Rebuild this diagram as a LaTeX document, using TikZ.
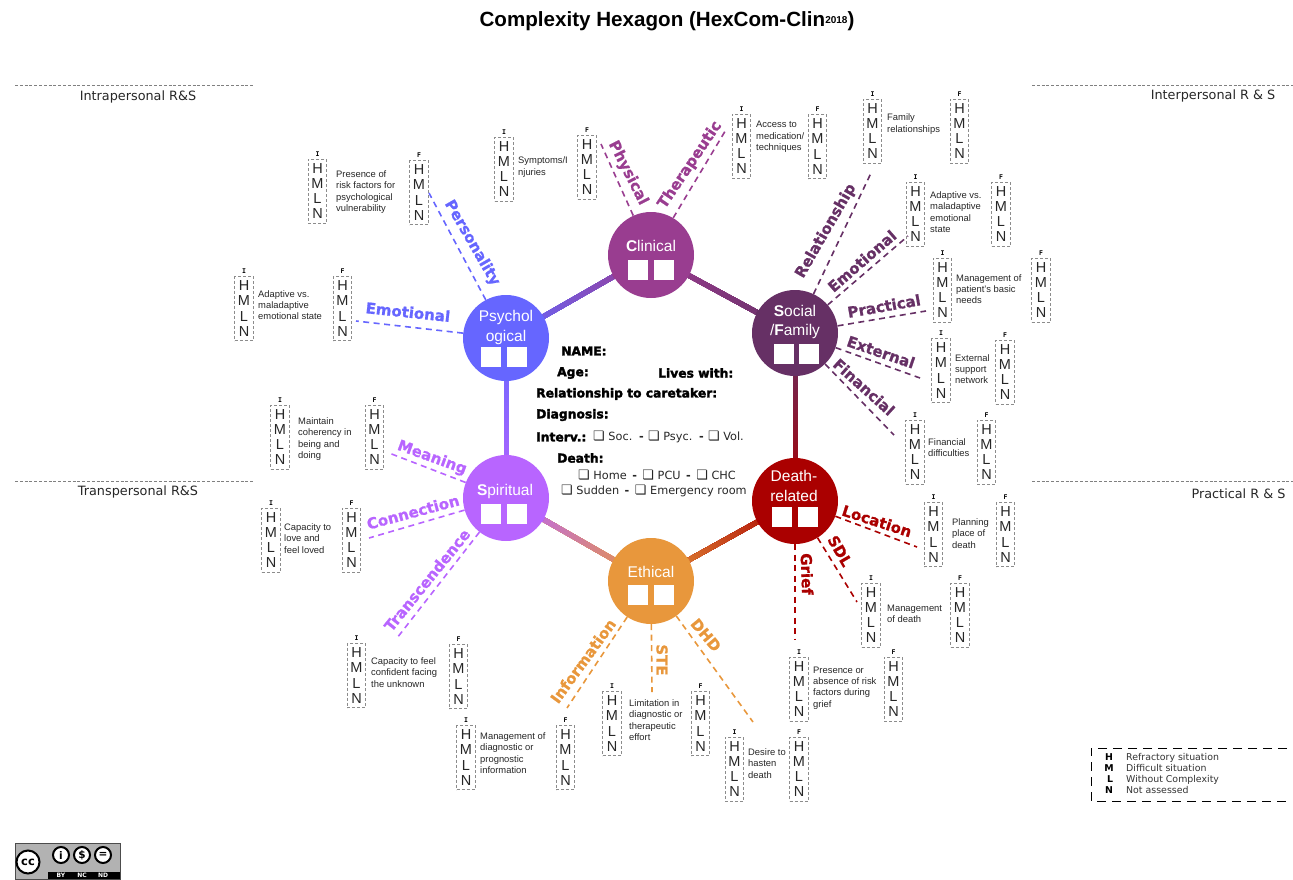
\documentclass[tikz,border=0pt]{standalone}
\usepackage{fontspec}
\setmainfont{Liberation Sans}
\newfontfamily\dejafont{DejaVu Sans}
\newfontfamily\heavyfont[FakeBold=2.4]{DejaVu Sans Bold}
\newfontfamily\topicfont[FakeBold=1]{DejaVu Sans Bold}
\newfontfamily\tagfont{DejaVu Sans Mono Bold}
\usetikzlibrary{calc}
\pgfdeclarelayer{bg}
\pgfsetlayers{bg,main}
\definecolor{psychcol}{HTML}{6666FF}
\definecolor{cliniccol}{HTML}{993D90}
\definecolor{socialcol}{HTML}{663065}
\definecolor{deathcol}{HTML}{AA0000}
\definecolor{ethiccol}{HTML}{E8973C}
\definecolor{spiritcol}{HTML}{B865FF}
\tikzset{
  hub/.style={circle,fill=#1,minimum size=86pt,inner sep=0pt},
  hubtext/.style={text=white,align=center,inner sep=0pt,font=\fontsize{15.5}{19.5}\selectfont},
  tick/.style={fill=white,minimum size=20pt,inner sep=0pt},
  hml/.style={draw=black!45,line width=0.8pt,dash pattern=on 3pt off 2pt,minimum width=18.5pt,minimum height=64pt,
    inner sep=0pt,align=center,font=\fontsize{14.5}{15.2}\selectfont,text=black!85},
  tagtext/.style={inner sep=0pt,label distance=2pt,font=\tagfont\fontsize{6.5}{7}\selectfont},
  desc/.style={anchor=west,align=left,inner sep=0pt,text=black!85,font=\fontsize{9.4}{11.35}\selectfont},
  topic/.style={text=#1,inner sep=0pt,font=\topicfont\fontsize{15}{15}\selectfont},
  spoke/.style={draw=#1,line width=1.6pt,dash pattern=on 6pt off 4.5pt},
  rim/.style={line width=5pt},
  sidetext/.style={inner sep=0pt,text=black!85,font=\dejafont\fontsize{12.8}{13}\selectfont},
  sideline/.style={draw=black!50,line width=1pt,dash pattern=on 3pt off 1.8pt},
  heavy/.style={anchor=west,inner sep=0pt,font=\heavyfont\fontsize{12.3}{13}\selectfont},
  plain/.style={anchor=west,inner sep=0pt,text=black!85,font=\dejafont\fontsize{11.3}{12}\selectfont},
  keyletter/.style={anchor=base,inner sep=0pt,font=\dejafont\bfseries\fontsize{9.4}{10}\selectfont},
  keytext/.style={anchor=base west,inner sep=0pt,text=black!80,font=\dejafont\fontsize{9.4}{10}\selectfont},
  badgeicon/.style={circle,draw=black,fill=white,line width=2pt,minimum size=#1,inner sep=0pt,font=\dejafont\bfseries\fontsize{10.5}{10.5}\selectfont},
}
\newcommand{\chkbox}{{\dejafont\fontsize{13}{12}\selectfont ❏}}
\newcommand{\sep}{{\bfseries\,-\,}}
% boxes: name, I centre, F centre, text anchor, text
\newcommand{\topicitem}[8]{
  \node[hml,label={[tagtext]above:I}] (#1i) at (#2,#3) {H\\M\\L\\N};
  \node[hml,label={[tagtext]above:F}] (#1f) at (#4,#5) {H\\M\\L\\N};
  \node[desc] (#1d) at (#6,#7) {#8};
}
% gradient link between two hubs
\newcommand{\hublink}[4]{
  \begin{pgfonlayer}{bg}
  \draw[rim,color=#3] (#1) -- (#2);
  \foreach \s in {0,...,39} {
    \pgfmathsetmacro\t{\s/40}
    \pgfmathsetmacro\m{\s*2.5}
    \draw[rim,color=#4!\m!#3] ($(#1)!\t!(#2)$) -- (#2);
  }
  \end{pgfonlayer}
}
\begin{document}
\begin{tikzpicture}[x=1pt,y=-1pt]
\useasboundingbox (0,0) rectangle (1293,879);

\node[inner sep=0pt,font=\bfseries\fontsize{20.6}{21}\selectfont] (title) at (667,21) {Complexity Hexagon (HexCom-Clin\raisebox{3pt}{\fontsize{10}{10}\selectfont 2018})};

% side headers
\coordinate (la) at (15,85); \coordinate (lb) at (253,85);
\coordinate (ra) at (1032,85); \coordinate (rb) at (1293,85);
\coordinate (lc) at (15,481); \coordinate (ld) at (253,481);
\coordinate (rc) at (1032,481); \coordinate (rd) at (1293,481);
\draw[sideline] (la) -- (lb);
\draw[sideline] (ra) -- (rb);
\draw[sideline] (lc) -- (ld);
\draw[sideline] (rc) -- (rd);
\node[sidetext] (intra) at (138,97) {Intrapersonal R\&S};
\node[sidetext] (inter) at (1213,96) {Interpersonal R \& S};
\node[sidetext] (trans) at (138,492) {Transpersonal R\&S};
\node[sidetext] (practh) at (1238.5,494) {Practical R \& S};

% hubs
\node[hub=cliniccol] (clinical) at (651,255) {};
\node[hub=psychcol] (psych) at (506,338) {};
\node[hub=socialcol] (social) at (795,333) {};
\node[hub=spiritcol] (spirit) at (506,498) {};
\node[hub=deathcol] (death) at (795,501) {};
\node[hub=ethiccol] (ethic) at (651,581) {};

\node[hubtext] (clinicalt) at (651,246) {\textbf{C}linical};
\node[hubtext] (psycht) at (506,327.5) {Psychol\\ogical};
\node[hubtext] (socialt) at (795,322) {\textbf{S}ocial\\/\textbf{F}amily};
\node[hubtext] (spiritt) at (505,491) {\textbf{S}piritual};
\node[hubtext] (deatht) at (794,486) {Death-\\related};
\node[hubtext] (ethict) at (651,572) {Ethical};

\node[tick] (clinicala) at (638,270) {}; \node[tick] (clinicalb) at (664,270) {};
\node[tick] (psycha) at (491,357) {}; \node[tick] (psychb) at (517,357) {};
\node[tick] (sociala) at (784,354) {}; \node[tick] (socialb) at (809,354) {};
\node[tick] (spirita) at (491,514) {}; \node[tick] (spiritb) at (517,514) {};
\node[tick] (deatha) at (782,517) {}; \node[tick] (deathb) at (808,517) {};
\node[tick] (ethica) at (638,595) {}; \node[tick] (ethicb) at (664,595) {};

\hublink{psych}{clinical}{psychcol}{cliniccol}
\hublink{clinical}{social}{cliniccol}{socialcol}
\hublink{social}{death}{socialcol}{deathcol}
\hublink{death}{ethic}{deathcol}{ethiccol}
\hublink{ethic}{spirit}{ethiccol}{spiritcol}
\hublink{spirit}{psych}{spiritcol}{psychcol}

% patient data
\node[heavy] (name) at (561,351) {NAME:};
\node[heavy] (age) at (557,373) {Age:};
\node[heavy] (lives) at (658,373) {Lives with:};
\node[heavy] (carer) at (536,394) {Relationship to caretaker:};
\node[heavy] (diag) at (536,415) {Diagnosis:};
\node[heavy] (interv) at (536,437) {Interv.:};
\node[plain] (intervo) at (593,437) {\chkbox\ Soc. \sep\hspace{2.5pt}\chkbox\ Psyc. \sep\hspace{2.5pt}\chkbox\ Vol.};
\node[heavy] (dth) at (557,458) {Death:};
\node[plain] (dtha) at (578,475) {\chkbox\ Home \sep\ \chkbox\ PCU \sep\ \chkbox\ CHC};
\node[plain] (dthb) at (561,491) {\chkbox\ Sudden \sep\ \chkbox\ Emergency room};

% psychological
\topicitem{pers}{317.5}{191}{419}{192.5}{336}{192}{Presence of\\risk factors for\\psychological\\vulnerability}
\topicitem{emop}{244}{308.5}{342.5}{308.5}{258}{305}{Adaptive vs.\\maladaptive\\emotional state}
\coordinate (persc) at (429,193); \coordinate (emopc) at (356,321);
\draw[spoke=psychcol] (psych) -- (persc);
\draw[spoke=psychcol] (psych) -- (emopc);
\node[topic=psychcol,rotate=-60] (perst) at (472,243) {Personality};
\node[topic=psychcol,rotate=-6] (emopt) at (408,312) {Emotional};

% clinical
\topicitem{phys}{504}{169}{587}{167}{518}{167}{Symptoms/I\\njuries}
\topicitem{ther}{741.5}{146}{817.5}{146.5}{756}{137}{Access to\\medication/\\techniques}
\coordinate (physc) at (601,144); \coordinate (therc) at (727,128);
\draw[spoke=cliniccol] (clinical) -- (physc);
\draw[spoke=cliniccol] (clinical) -- (therc);
\node[topic=cliniccol,rotate=-63] (physt) at (628,173) {Physical};
\node[topic=cliniccol,rotate=56] (thert) at (690,165) {Therapeutic};

% social / family
\topicitem{rela}{872.5}{131}{959.5}{131}{887}{124}{Family\\relationships}
\topicitem{emos}{915.5}{214}{1001}{214}{930}{212}{Adaptive vs.\\maladaptive\\emotional\\state}
\topicitem{prac}{942.5}{290}{1041}{290}{956}{289}{Management of\\patient's basic\\needs}
\topicitem{exte}{941}{370.5}{1005}{372}{955}{369}{External\\support\\network}
\topicitem{fina}{915}{452}{986.5}{452}{928}{447.5}{Financial\\difficulties}
\coordinate (relac) at (871,173); \coordinate (emosc) at (908,236);
\coordinate (pracc) at (926,311); \coordinate (extec) at (920,378);
\coordinate (finac) at (894,435);
\draw[spoke=socialcol] (social) -- (relac);
\draw[spoke=socialcol] (social) -- (emosc);
\draw[spoke=socialcol] (social) -- (pracc);
\draw[spoke=socialcol] (social) -- (extec);
\draw[spoke=socialcol] (social) -- (finac);
\node[topic=socialcol,rotate=60] (relat) at (826,231) {Relationship};
\node[topic=socialcol,rotate=41] (emost) at (862,261) {Emotional};
\node[topic=socialcol,rotate=10] (pract) at (884,306) {Practical};
\node[topic=socialcol,rotate=-19] (extet) at (881,352) {External};
\node[topic=socialcol,rotate=-42] (finat) at (864,387) {Financial};

% death-related
\topicitem{loca}{933.5}{534.5}{1005.5}{534.5}{952}{533.5}{Planning\\place of\\death}
\topicitem{sdlx}{871}{615}{960}{615}{887}{613.5}{Management\\of death}
\topicitem{grie}{799}{689}{893.5}{689}{813}{688}{Presence or\\absence of risk\\factors during\\grief}
\coordinate (locac) at (917,547); \coordinate (sdlxc) at (857,602); \coordinate (griec) at (795,639);
\draw[spoke=deathcol] (death) -- (locac);
\draw[spoke=deathcol] (death) -- (sdlxc);
\draw[spoke=deathcol] (death) -- (griec);
\node[topic=deathcol,rotate=-18] (locat) at (877,521) {Location};
\node[topic=deathcol,rotate=-60] (sdlxt) at (840,551) {SDL};
\node[topic=deathcol,rotate=-88] (griet) at (807,574) {Grief};

% ethical
\topicitem{dhdx}{734.5}{769}{799}{769}{748}{763.5}{Desire to\\hasten\\death}
\topicitem{stex}{612}{723.5}{700.5}{723.5}{629}{720}{Limitation in\\diagnostic or\\therapeutic\\effort}
\topicitem{info}{466}{757.5}{565.5}{757.5}{480}{753}{Management of\\diagnostic or\\prognostic\\information}
\coordinate (dhdxc) at (753,722); \coordinate (stexc) at (652,692); \coordinate (infoc) at (567,708);
\draw[spoke=ethiccol] (ethic) -- (dhdxc);
\draw[spoke=ethiccol] (ethic) -- (stexc);
\draw[spoke=ethiccol] (ethic) -- (infoc);
\node[topic=ethiccol,rotate=-50] (dhdxt) at (706,635) {DHD};
\node[topic=ethiccol,rotate=-90] (stext) at (662,660) {STE};
\node[topic=ethiccol,rotate=54] (infot) at (583,661) {Information};

% spiritual
\topicitem{mean}{280}{437}{374.5}{437}{298}{439}{Maintain\\coherency in\\being and\\doing}
\topicitem{conn}{271}{540}{351.5}{540}{284}{538.5}{Capacity to\\love and\\feel loved}
\topicitem{tran}{356.5}{675.5}{458.5}{676.5}{371}{672.5}{Capacity to feel\\confident facing\\the unknown}
\coordinate (meanc) at (389,453); \coordinate (connc) at (369,538); \coordinate (tranc) at (397,638);
\draw[spoke=spiritcol] (spirit) -- (meanc);
\draw[spoke=spiritcol] (spirit) -- (connc);
\draw[spoke=spiritcol] (spirit) -- (tranc);
\node[topic=spiritcol,rotate=-20] (meant) at (432,458) {Meaning};
\node[topic=spiritcol,rotate=15] (connt) at (413,512) {Connection};
\node[topic=spiritcol,rotate=51] (trant) at (427,580) {Transcendence};

% legend
\coordinate (keya) at (1287,748); \coordinate (keyb) at (1091,748);
\coordinate (keyc) at (1091,801); \coordinate (keyd) at (1287,801);
\draw[black,line width=1pt,dash pattern=on 9pt off 6pt] (keya) -- (keyb) -- (keyc) -- (keyd);
\node[keyletter] (keyh) at (1109,760) {H}; \node[keytext] (keyht) at (1126,760) {Refractory situation};
\node[keyletter] (keym) at (1109,771) {M}; \node[keytext] (keymt) at (1126,771) {Difficult situation};
\node[keyletter] (keyl) at (1110,782) {L}; \node[keytext] (keylt) at (1126,782) {Without Complexity};
\node[keyletter] (keyn) at (1109,793) {N}; \node[keytext] (keynt) at (1126,793) {Not assessed};

% licence badge
\node[draw=black!70,line width=1pt,fill=black!30,minimum width=105pt,minimum height=36pt,inner sep=0pt] (badge) at (67.5,861) {};
\node[fill=black,minimum width=72pt,minimum height=7pt,inner sep=0pt] (band) at (84,875.5) {};
\node[badgeicon=23pt] (badgecc) at (28,862) {\fontsize{11.5}{11.5}\selectfont cc};
\node[badgeicon=16pt] (badgeby) at (61,855) {i};
\node[badgeicon=16pt] (badgenc) at (82,855) {\$};
\node[badgeicon=16pt] (badgend) at (103,855) {=};
\node[text=white,inner sep=0pt,font=\dejafont\bfseries\fontsize{6}{6}\selectfont] (badgea) at (61,875.5) {BY};
\node[text=white,inner sep=0pt,font=\dejafont\bfseries\fontsize{6}{6}\selectfont] (badgeb) at (82,875.5) {NC};
\node[text=white,inner sep=0pt,font=\dejafont\bfseries\fontsize{6}{6}\selectfont] (badgec) at (103,875.5) {ND};
\end{tikzpicture}
\end{document}
